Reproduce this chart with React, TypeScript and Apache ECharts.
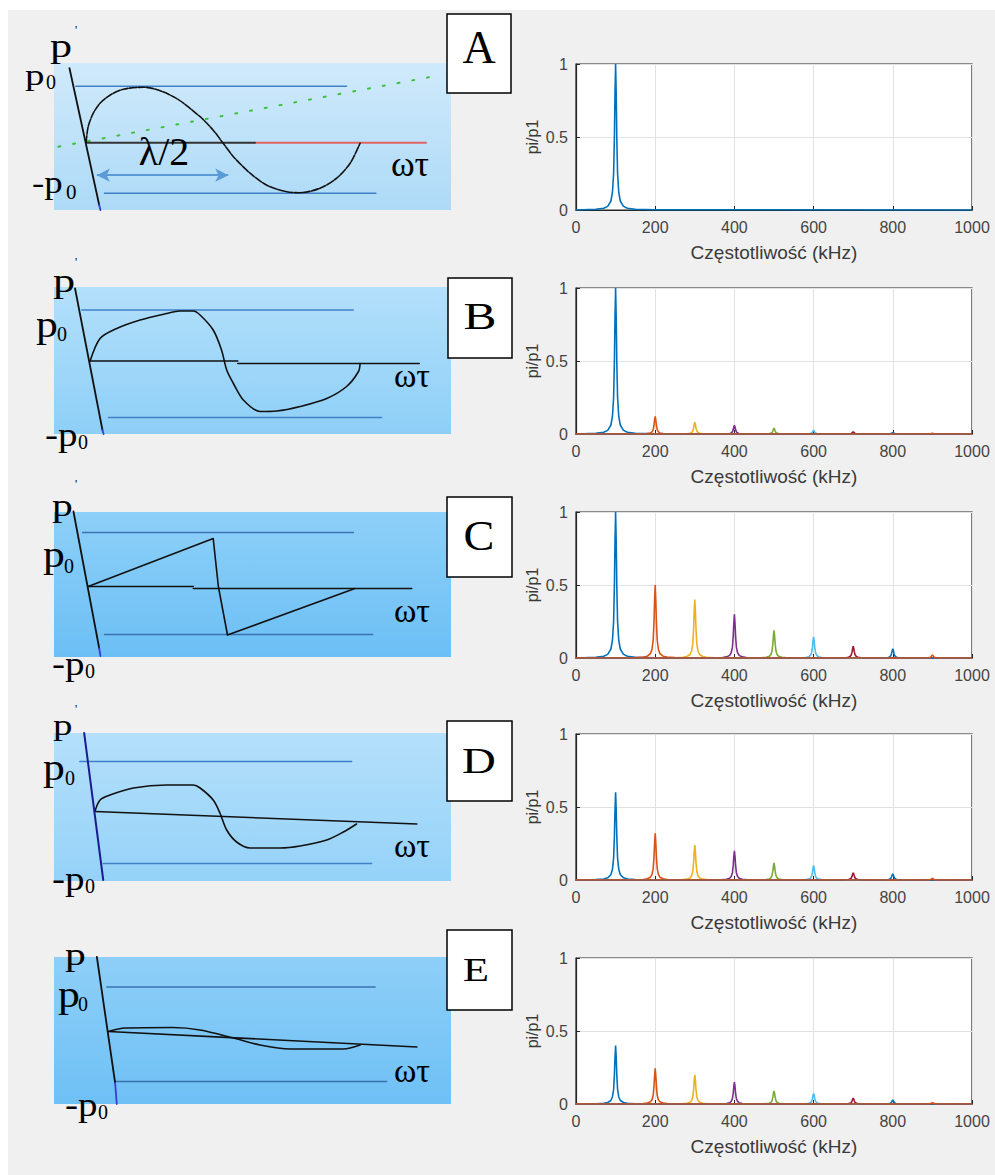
import React, { useEffect, useRef } from "react";
import * as echarts from "echarts";

// ---------------- Right column: harmonic spectra ----------------
const HARMONIC_FREQS = [100, 200, 300, 400, 500, 600, 700, 800, 900];
const HARMONIC_COLORS = ["#0072BD", "#D95319", "#EDB120", "#7E2F8E", "#77AC30", "#4DBEEE", "#A2142F", "#0072BD", "#D95319"];
const SPECTRUM_A = [1.0];
const SPECTRUM_B = [1.0, 0.12, 0.08, 0.06, 0.04, 0.025, 0.015, 0.01, 0.005];
const SPECTRUM_C = [1.0, 0.5, 0.4, 0.3, 0.19, 0.145, 0.08, 0.063, 0.02];
const SPECTRUM_D = [0.6, 0.32, 0.24, 0.2, 0.118, 0.1, 0.05, 0.043, 0.012];
const SPECTRUM_E = [0.4, 0.245, 0.2, 0.15, 0.09, 0.073, 0.04, 0.027, 0.01];
// shape of one spectral line (offset in kHz, relative height)
const PEAK_OFFSETS = [-100, -50, -30, -20, -12, -8, -5, -3, -1.5, 0, 1.5, 3, 5, 8, 12, 20, 30, 50, 100];
const PEAK_SHAPE = [0.002, 0.005, 0.012, 0.025, 0.06, 0.12, 0.25, 0.5, 0.8, 1, 0.8, 0.5, 0.25, 0.12, 0.06, 0.025, 0.012, 0.005, 0.002];
const FREQ_RANGE = [0, 1000];
const FREQ_STEP = 200;
const RATIO_RANGE = [0, 1];
const RATIO_STEP = 0.5;
const X_NAME = "Częstotliwość (kHz)";
const Y_NAME = "pi/p1";

// ---------------- Left column: waveform sketches (x: ωτ units, y: p/p0 units) ----------------
const SKETCH_X_RANGE = [0, 10];

const A_Y_RANGE = [-1.346, 1.594];
const A_P_AXIS = [[0.39, 1.49], [1.14, -1.25]];
const A_P_AXIS_TIP = [[1.14, -1.25], [1.17, -1.35]];
const A_P0 = [[0.55, 1.13], [7.37, 1.13]];
const A_NEG_P0 = [[1.27, -1.01], [8.11, -1.01]];
const A_TIME_AXIS = [[0.81, 0], [5.06, 0]];
const A_TIME_AXIS_RED = [[5.06, 0], [9.37, 0]];
const A_WAVE = [[0.81, 0], [0.86, 0.32], [0.99, 0.59], [1.16, 0.79], [1.41, 0.95], [1.75, 1.07], [2.26, 1.11], [3.01, 0.92], [3.68, 0.52], [4.01, 0.25], [4.25, 0], [4.52, -0.28], [4.94, -0.61], [5.36, -0.85], [5.86, -0.98], [6.2, -1.0], [6.7, -0.91], [7.12, -0.71], [7.46, -0.41], [7.71, -0.01]];
const A_TANGENT = [[0.11, -0.08], [9.72, 1.35]];
const A_HALF_WAVELENGTH = [[1.08, -0.65], [4.39, -0.65]];

const B_Y_RANGE = [-1.44, 1.5];
const B_P_AXIS = [[0.53, 1.47], [1.22, -1.36]];
const B_P_AXIS_TIP = [[1.22, -1.36], [1.25, -1.44]];
const B_P0 = [[0.7, 1.04], [7.54, 1.04]];
const B_NEG_P0 = [[1.37, -1.11], [8.25, -1.11]];
const B_TIME_AXIS = [[0.91, 0.02], [4.63, 0.02]];
const B_TIME_AXIS_2 = [[4.63, -0.03], [9.2, -0.03]];
const B_WAVE = [[0.91, 0.02], [1.16, 0.47], [1.58, 0.67], [2.17, 0.84], [2.84, 0.97], [3.17, 1.02], [3.51, 1.02], [3.68, 0.94], [4.01, 0.64], [4.22, 0.24], [4.35, -0.16], [4.52, -0.43], [4.77, -0.76], [5.19, -0.99], [5.61, -0.98], [6.2, -0.89], [6.87, -0.73], [7.37, -0.49], [7.67, -0.19], [7.71, -0.03]];

const C_Y_RANGE = [-1.39, 1.51];
const C_P_AXIS = [[0.49, 1.52], [1.14, -1.22]];
const C_P_AXIS_TIP = [[1.14, -1.22], [1.17, -1.37]];
const C_P0 = [[0.72, 1.1], [7.54, 1.1]];
const C_NEG_P0 = [[1.27, -0.94], [8.03, -0.94]];
const C_TIME_AXIS = [[0.86, 0.02], [3.51, 0.02]];
const C_TIME_AXIS_2 = [[3.51, -0.02], [9.01, -0.02]];
const C_WAVE = [[0.86, 0.02], [4.01, 0.98], [4.14, 0.02], [4.37, -0.95], [7.58, -0.02]];

const D_Y_RANGE = [-1.39, 1.57];
const D_P_AXIS = [[0.76, 1.57], [1.24, -1.37]];
const D_P0 = [[0.65, 1.0], [7.5, 1.0]];
const D_NEG_P0 = [[1.24, -1.04], [8.0, -1.04]];
const D_TIME_AXIS = [[1.03, 0], [9.14, -0.25]];
const D_WAVE = [[1.03, 0], [1.16, 0.23], [1.41, 0.33], [2.0, 0.47], [2.84, 0.53], [3.25, 0.53], [3.51, 0.53], [3.68, 0.47], [4.01, 0.23], [4.18, -0.03], [4.35, -0.37], [4.6, -0.61], [4.94, -0.73], [5.69, -0.73], [6.2, -0.69], [6.87, -0.57], [7.29, -0.41], [7.62, -0.25]];

const E_Y_RANGE = [-1.45, 1.49];
const E_P_AXIS = [[1.08, 1.49], [1.54, -1.03]];
const E_P_AXIS_TIP = [[1.54, -1.03], [1.58, -1.45]];
const E_P0 = [[1.33, 0.89], [8.09, 0.89]];
const E_NEG_P0 = [[1.54, -1.0], [8.38, -1.0]];
const E_TIME_AXIS = [[1.37, 0], [9.14, -0.31]];
const E_WAVE = [[1.37, 0], [1.79, 0.07], [3.0, 0.08], [3.68, 0.03], [4.52, -0.13], [5.19, -0.27], [5.94, -0.35], [7.29, -0.35], [7.71, -0.27]];

const PANEL_LETTERS = ["A", "B", "C", "D", "E"];

// ---------------- layout ----------------
const SERIF = "'Liberation Serif','DejaVu Serif',serif";
const SANS = "'Liberation Sans',Arial,Helvetica,sans-serif";
const SKETCH_LEFT = 54;
const SKETCH_WIDTH = 397;
const SKETCH_TOPS = [63, 287, 512, 733, 957];
const SKETCH_HEIGHTS = [147, 147, 145, 148, 147];
const SKETCH_GRADIENTS = [
  ["#d0eafb", "#addaf7"],
  ["#b3e0fb", "#8ecff7"],
  ["#8dd0f8", "#6cbff5"],
  ["#b4e0fb", "#95d2f8"],
  ["#8ecff8", "#6ec0f5"],
];
const PLOT_LEFT = 576;
const PLOT_WIDTH = 396;
const PLOT_TOPS = [64, 288, 512, 734, 958];
const PLOT_HEIGHT = 146;

const BOXES = [
  { x: 447, y: 14, w: 64, h: 79, cx: 479, cy: 47.5, size: 46, sx: 1 },
  { x: 448, y: 278, w: 64, h: 80, cx: 480, cy: 316, size: 38, sx: 1.3 },
  { x: 447, y: 497, w: 65, h: 80, cx: 479, cy: 536, size: 42, sx: 1.1 },
  { x: 447, y: 721, w: 65, h: 80, cx: 479, cy: 761, size: 36, sx: 1.3 },
  { x: 447, y: 930, w: 65, h: 80, cx: 476, cy: 970, size: 34, sx: 1.25 },
];

// serif labels of the sketches (sx: horizontal stretch)
const P_SX = 1.3;
const SKETCH_TEXTS = [
  // A
  { t: "p", x: 50, y: 46, s: 34, sx: P_SX },
  { t: "'", x: 75, y: 30, s: 12 },
  { t: "p", x: 25, y: 75, s: 30, sx: P_SX },
  { t: "0", x: 46, y: 82, s: 20 },
  { t: "-p", x: 32, y: 182, s: 32, sx: 1.15 },
  { t: "0", x: 66, y: 192, s: 21 },
  { t: "λ/2", x: 164, y: 151, s: 40, c: true },
  { t: "ωτ", x: 410, y: 164, s: 36, c: true },
  // B
  { t: "p", x: 53, y: 281, s: 34, sx: P_SX },
  { t: "'", x: 75, y: 262, s: 12 },
  { t: "p", x: 36, y: 324, s: 38, sx: 1.15 },
  { t: "0", x: 57, y: 334, s: 20 },
  { t: "-p", x: 45, y: 434, s: 34, sx: 1.15 },
  { t: "0", x: 78, y: 442, s: 20 },
  { t: "ωτ", x: 412, y: 375, s: 34, c: true },
  // C
  { t: "p", x: 52, y: 505, s: 32, sx: P_SX },
  { t: "'", x: 75, y: 484, s: 12 },
  { t: "p", x: 43, y: 554, s: 38, sx: 1.15 },
  { t: "0", x: 64, y: 566, s: 20 },
  { t: "-p", x: 52, y: 663, s: 34, sx: 1.15 },
  { t: "0", x: 85, y: 671, s: 20 },
  { t: "ωτ", x: 412, y: 610, s: 34, c: true },
  // D
  { t: "p", x: 53, y: 725, s: 30, sx: P_SX },
  { t: "'", x: 75, y: 709, s: 12 },
  { t: "p", x: 43, y: 767, s: 38, sx: 1.15 },
  { t: "0", x: 65, y: 778, s: 20 },
  { t: "-p", x: 52, y: 878, s: 34, sx: 1.15 },
  { t: "0", x: 85, y: 886, s: 20 },
  { t: "ωτ", x: 412, y: 845, s: 34, c: true },
  // E
  { t: "p", x: 65, y: 954, s: 32, sx: P_SX },
  { t: "p", x: 58, y: 994, s: 38, sx: 1.15 },
  { t: "0", x: 78, y: 1004, s: 20 },
  { t: "-p", x: 65, y: 1104, s: 34, sx: 1.15 },
  { t: "0", x: 98, y: 1112, s: 20 },
  { t: "ωτ", x: 412, y: 1070, s: 34, c: true },
];

function stroke(grid: number, data: number[][], color: string, width: number, extra: any = {}) {
  return {
    type: "line",
    xAxisIndex: grid,
    yAxisIndex: grid,
    data,
    symbol: "none",
    showSymbol: false,
    silent: true,
    clip: false,
    smooth: extra.smooth ?? false,
    z: extra.z ?? 3,
    lineStyle: { color, width, type: extra.type ?? "solid", cap: "round", join: "round" },
    ...(extra.markLine ? { markLine: extra.markLine } : {}),
  };
}

function peakData(center: number, amp: number) {
  const pts: number[][] = [[FREQ_RANGE[0], 0]];
  PEAK_OFFSETS.forEach((o, i) => {
    const f = center + o;
    if (f > FREQ_RANGE[0] && f < FREQ_RANGE[1]) pts.push([f, amp * PEAK_SHAPE[i]]);
  });
  pts.push([FREQ_RANGE[1], 0]);
  return pts;
}

function buildOption() {
  const grids: any[] = [];
  const xAxes: any[] = [];
  const yAxes: any[] = [];
  const series: any[] = [];

  const yRanges = [A_Y_RANGE, B_Y_RANGE, C_Y_RANGE, D_Y_RANGE, E_Y_RANGE];
  // sketch grids 0..4
  for (let i = 0; i < 5; i++) {
    grids.push({
      left: SKETCH_LEFT,
      top: SKETCH_TOPS[i],
      width: SKETCH_WIDTH,
      height: SKETCH_HEIGHTS[i],
      show: true,
      borderWidth: 0,
      backgroundColor: {
        type: "linear", x: 0, y: 0, x2: 0, y2: 1,
        colorStops: [
          { offset: 0, color: SKETCH_GRADIENTS[i][0] },
          { offset: 1, color: SKETCH_GRADIENTS[i][1] },
        ],
      },
    });
    xAxes.push({ type: "value", gridIndex: i, min: SKETCH_X_RANGE[0], max: SKETCH_X_RANGE[1], show: false });
    yAxes.push({ type: "value", gridIndex: i, min: yRanges[i][0], max: yRanges[i][1], show: false });
  }

  const BLUE = "#3f80c8";
  const BLACK = "#111";
  // A
  series.push(stroke(0, A_TANGENT, "#3cc03c", 2, { type: [2, 13] }));
  series.push(stroke(0, A_P0, BLUE, 1.4));
  series.push(stroke(0, A_NEG_P0, BLUE, 1.4));
  series.push(stroke(0, A_TIME_AXIS_RED, "#e06464", 2));
  series.push(
    stroke(0, A_TIME_AXIS, "#333", 2, {
      markLine: {
        silent: true,
        symbol: ["arrow", "arrow"],
        symbolSize: [10, 13],
        label: { show: false },
        lineStyle: { color: "#5b9bd5", width: 2, type: "solid" },
        data: [[{ coord: A_HALF_WAVELENGTH[0] }, { coord: A_HALF_WAVELENGTH[1] }]],
      },
    })
  );
  series.push(stroke(0, A_WAVE, BLACK, 1.6, { smooth: 0.3, type: [7, 1.5] }));
  series.push(stroke(0, A_P_AXIS, BLACK, 1.8));
  series.push(stroke(0, A_P_AXIS_TIP, "#3b3bd8", 1.8));
  // B
  series.push(stroke(1, B_P0, BLUE, 1.4));
  series.push(stroke(1, B_NEG_P0, BLUE, 1.4));
  series.push(stroke(1, B_TIME_AXIS, BLACK, 1.6));
  series.push(stroke(1, B_TIME_AXIS_2, BLACK, 1.6));
  series.push(stroke(1, B_WAVE, BLACK, 1.6, { smooth: 0.3 }));
  series.push(stroke(1, B_P_AXIS, BLACK, 1.8));
  series.push(stroke(1, B_P_AXIS_TIP, "#3b3bd8", 1.8));
  // C
  series.push(stroke(2, C_P0, "#3a72b0", 1.4));
  series.push(stroke(2, C_NEG_P0, "#3a72b0", 1.4));
  series.push(stroke(2, C_TIME_AXIS, BLACK, 1.6));
  series.push(stroke(2, C_TIME_AXIS_2, BLACK, 1.6));
  series.push(stroke(2, C_WAVE, BLACK, 1.6));
  series.push(stroke(2, C_P_AXIS, BLACK, 1.8));
  series.push(stroke(2, C_P_AXIS_TIP, "#3b3bd8", 1.8));
  // D
  series.push(stroke(3, D_P0, BLUE, 1.4));
  series.push(stroke(3, D_NEG_P0, BLUE, 1.4));
  series.push(stroke(3, D_TIME_AXIS, BLACK, 1.6));
  series.push(stroke(3, D_WAVE, BLACK, 1.6, { smooth: 0.3 }));
  series.push(stroke(3, D_P_AXIS, "#1c1c90", 2));
  // E
  series.push(stroke(4, E_P0, "#3a72b0", 1.4));
  series.push(stroke(4, E_NEG_P0, "#3a72b0", 1.4));
  series.push(stroke(4, E_TIME_AXIS, BLACK, 1.6));
  series.push(stroke(4, E_WAVE, BLACK, 1.6, { smooth: 0.3 }));
  series.push(stroke(4, E_P_AXIS, BLACK, 1.8));
  series.push(stroke(4, E_P_AXIS_TIP, "#3b3bd8", 1.8));

  // spectra grids 5..9
  const spectra = [SPECTRUM_A, SPECTRUM_B, SPECTRUM_C, SPECTRUM_D, SPECTRUM_E];
  const AX = "#262626";
  for (let i = 0; i < 5; i++) {
    const g = 5 + i;
    grids.push({
      left: PLOT_LEFT,
      top: PLOT_TOPS[i],
      width: PLOT_WIDTH,
      height: PLOT_HEIGHT,
      show: true,
      backgroundColor: "#ffffff",
      borderColor: AX,
      borderWidth: 1.2,
    });
    xAxes.push({
      type: "value",
      gridIndex: g,
      min: FREQ_RANGE[0],
      max: FREQ_RANGE[1],
      interval: FREQ_STEP,
      name: X_NAME,
      nameLocation: "middle",
      nameGap: 33,
      nameTextStyle: { color: "#3a3a3a", fontSize: 19, fontFamily: SANS },
      axisLine: { show: true, lineStyle: { color: AX, width: 1.2 } },
      axisTick: { show: true, inside: true, length: 4, lineStyle: { color: AX } },
      axisLabel: { color: "#444", fontSize: 16, fontFamily: SANS, margin: 9, formatter: (v: number) => String(v) },
      splitLine: { show: true, lineStyle: { color: "#e2e2e2", width: 1 } },
    });
    yAxes.push({
      type: "value",
      gridIndex: g,
      min: RATIO_RANGE[0],
      max: RATIO_RANGE[1],
      interval: RATIO_STEP,
      name: Y_NAME,
      nameLocation: "middle",
      nameRotate: 90,
      nameGap: 36,
      nameTextStyle: { color: "#3a3a3a", fontSize: 16, fontFamily: SANS },
      axisLine: { show: true, lineStyle: { color: AX, width: 1.2 } },
      axisTick: { show: true, inside: true, length: 4, lineStyle: { color: AX } },
      axisLabel: { color: "#444", fontSize: 16, fontFamily: SANS, margin: 8, formatter: (v: number) => String(v) },
      splitLine: { show: true, lineStyle: { color: "#e2e2e2", width: 1 } },
    });
    spectra[i].forEach((amp, k) => {
      series.push({
        type: "line",
        xAxisIndex: g,
        yAxisIndex: g,
        data: peakData(HARMONIC_FREQS[k], amp),
        symbol: "none",
        showSymbol: false,
        silent: true,
        z: 3 + k,
        lineStyle: { color: HARMONIC_COLORS[k], width: 1.6 },
      });
    });
  }

  const graphic: any[] = [
    { type: "rect", shape: { x: 0, y: 0, width: 995, height: 10 }, style: { fill: "#ffffff" }, silent: true },
    { type: "rect", shape: { x: 0, y: 0, width: 8, height: 1175 }, style: { fill: "#ffffff" }, silent: true },
  ];
  BOXES.forEach((b, i) => {
    graphic.push({
      type: "rect",
      shape: { x: b.x, y: b.y, width: b.w, height: b.h },
      style: { fill: "#ffffff", stroke: "#000", lineWidth: 1.5 },
      silent: true,
      z: 10,
    });
    graphic.push({
      type: "text",
      x: b.cx,
      y: b.cy,
      scaleX: b.sx,
      silent: true,
      z: 11,
      style: {
        text: PANEL_LETTERS[i],
        font: `${b.size}px ${SERIF}`,
        fill: "#000",
        textAlign: "center",
        textVerticalAlign: "middle",
        verticalAlign: "middle",
      },
    });
  });
  SKETCH_TEXTS.forEach((t: any) => {
    graphic.push({
      type: "text",
      x: t.x,
      y: t.y,
      scaleX: t.sx ?? 1,
      silent: true,
      z: 11,
      style: {
        text: t.t,
        font: `${t.s}px ${SERIF}`,
        fill: "#000",
        textAlign: t.c ? "center" : "left",
        textVerticalAlign: "middle",
        verticalAlign: "middle",
      },
    });
  });

  return {
    animation: false,
    backgroundColor: "#f0f0f0",
    grid: grids,
    xAxis: xAxes,
    yAxis: yAxes,
    series,
    graphic,
  };
}

export default function App() {
  const ref = useRef<HTMLDivElement>(null);
  useEffect(() => {
    document.body.style.margin = "0";
    if (!ref.current) return;
    const chart = echarts.init(ref.current, undefined, { renderer: "svg" });
    chart.setOption(buildOption() as any);
    return () => chart.dispose();
  }, []);
  return <div ref={ref} style={{ width: 995, height: 1175 }} />;
}
